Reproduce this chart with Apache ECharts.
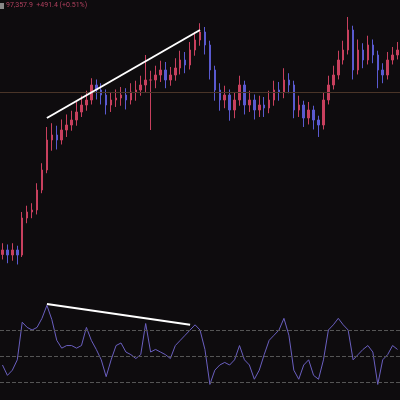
<!DOCTYPE html>
<html><head><meta charset="utf-8">
<script src="https://cdn.jsdelivr.net/npm/echarts@6/dist/echarts.min.js"></script>
<style>html,body{margin:0;padding:0;background:#0e0c0e}#c{width:400px;height:400px}</style>
</head><body><div id="c"></div>
<script>
const opens  = [81000,81358,80958,81358,80958,83918,84398,84558,86158,87758,90158,90558,90158,90958,91358,91758,92398,92958,93358,94558,94158,93758,92958,93358,93518,93758,93358,93998,94158,94558,94958,94958,95358,95758,94958,95358,95918,96558,96158,97358,98158,98798,97758,95758,94158,93358,93758,92558,93358,94558,92958,93358,92558,92958,92718,93358,94158,93998,94958,94558,92558,92958,91918,92558,91758,91358,93358,94558,95358,96558,97358,98958,95758,97358,96558,97758,96958,95758,95358,96558,96958];
const closes = [81358,80958,81358,80958,83918,84398,84558,86158,87758,90158,90558,90158,90958,91358,91758,92398,92958,93358,94558,94158,93758,92958,93358,93518,93758,93358,93998,94158,94558,94958,94958,95358,95758,94958,95358,95918,96558,96158,97358,98158,98798,97758,95758,94158,93358,93758,92558,93358,94558,92958,93358,92558,92958,92718,93358,94158,93998,94958,94558,92558,92958,91918,92558,91758,91358,93358,94558,95358,96558,97358,98958,95758,97358,96558,97758,96958,95758,95358,96558,96958,97358];
const highs  = [81900,81800,81900,81700,84400,84900,85100,86700,88300,91200,91500,91300,91800,92200,92500,93200,93700,94100,95100,95000,94700,94200,94000,94200,94400,94300,94700,94900,95300,96958,95700,96100,96500,96400,96000,96700,97300,97200,98000,98800,99500,99200,98100,96100,94700,94500,94200,94000,95300,94900,94100,93800,93700,93600,94100,94900,94800,95900,95500,94900,93700,93300,93200,92900,92100,94000,95300,96100,97300,98100,100000,99300,98200,97900,98500,98200,97300,96300,97200,97600,98000];
const lows   = [80600,80300,80500,80200,80800,83500,83900,84200,85900,87500,89300,89400,89800,90400,90900,91300,92000,92500,93000,93400,93000,92200,92400,92800,92900,92600,93000,93300,93700,94000,90958,94300,94800,94300,94500,94900,95400,95500,95800,96900,97700,97000,95000,93300,92500,92700,91700,91900,92900,92200,92400,91800,92000,92000,92300,92900,93300,93500,93900,91900,92000,91200,91400,91000,90400,91000,93000,94200,95000,96200,97000,95000,95400,95900,96200,96300,94300,94700,95000,96200,96600];
const rsi = [43,35,39,47,76,72,70,72,79,89,78,62,56,58,58,56,58,72,62,55,47,34,47,58,60,53,51,48,51,75,53,55,53,51,48,58,62,66,70,74,70,55,28,39,43,45,43,47,58,47,43,32,39,51,62,66,70,79,66,39,32,43,47,35,32,47,70,74,79,74,70,47,51,55,58,53,28,47,51,58,55];
const cats = closes.map((_, i) => i);
const candles = closes.map((c, i) => [opens[i], c, lows[i], highs[i]]);
const chart = echarts.init(document.getElementById('c'));
chart.setOption({
  backgroundColor: '#0e0c0e',
  animation: false,
  graphic: [
    {type: 'rect', left: 0, top: 3, shape: {width: 4, height: 6}, style: {fill: '#888'}},
    {type: 'text', left: 6, top: 2, style: {text: '97,357.9  +491.4 (+0.51%)', fill: '#b0405e', font: '7px Roboto'}}
  ],
  grid: [
    {left: 0, right: 0, top: 0, height: 290},
    {left: 0, right: 0, top: 295, height: 105}
  ],
  xAxis: [
    {type: 'category', data: cats, gridIndex: 0, show: false},
    {type: 'category', data: cats, gridIndex: 1, show: false}
  ],
  yAxis: [
    {type: 'value', gridIndex: 0, min: 78158, max: 101358, show: false, splitLine: {show: false}},
    {type: 'value', gridIndex: 1, min: 16, max: 97, show: false, splitLine: {show: false}}
  ],
  series: [
    {
      type: 'candlestick', data: candles, xAxisIndex: 0, yAxisIndex: 0, barWidth: 2,
      itemStyle: {color: '#c8405e', color0: '#5a5ad0', borderColor: '#c8405e', borderColor0: '#5a5ad0', borderWidth: 1},
      markLine: {
        symbol: 'none', silent: true, label: {show: false},
        data: [
          {yAxis: 93998, lineStyle: {color: '#4a3528', width: 1, type: 'solid'}},
          [{coord: [9, 91918], lineStyle: {color: '#ffffff', width: 2, type: 'solid'}}, {coord: [40, 98958]}]
        ]
      }
    },
    {
      type: 'line', data: rsi, xAxisIndex: 1, yAxisIndex: 1, symbol: 'none',
      lineStyle: {color: '#6a5fc0', width: 1},
      markLine: {
        symbol: 'none', silent: true, label: {show: false},
        data: [
          {yAxis: 70, lineStyle: {color: '#555', type: 'dashed', width: 1}},
          {yAxis: 50, lineStyle: {color: '#555', type: 'dashed', width: 1}},
          {yAxis: 30, lineStyle: {color: '#555', type: 'dashed', width: 1}},
          [{coord: [9, 90], lineStyle: {color: '#ffffff', width: 2, type: 'solid'}}, {coord: [38, 74]}]
        ]
      }
    }
  ]
});
</script></body></html>
